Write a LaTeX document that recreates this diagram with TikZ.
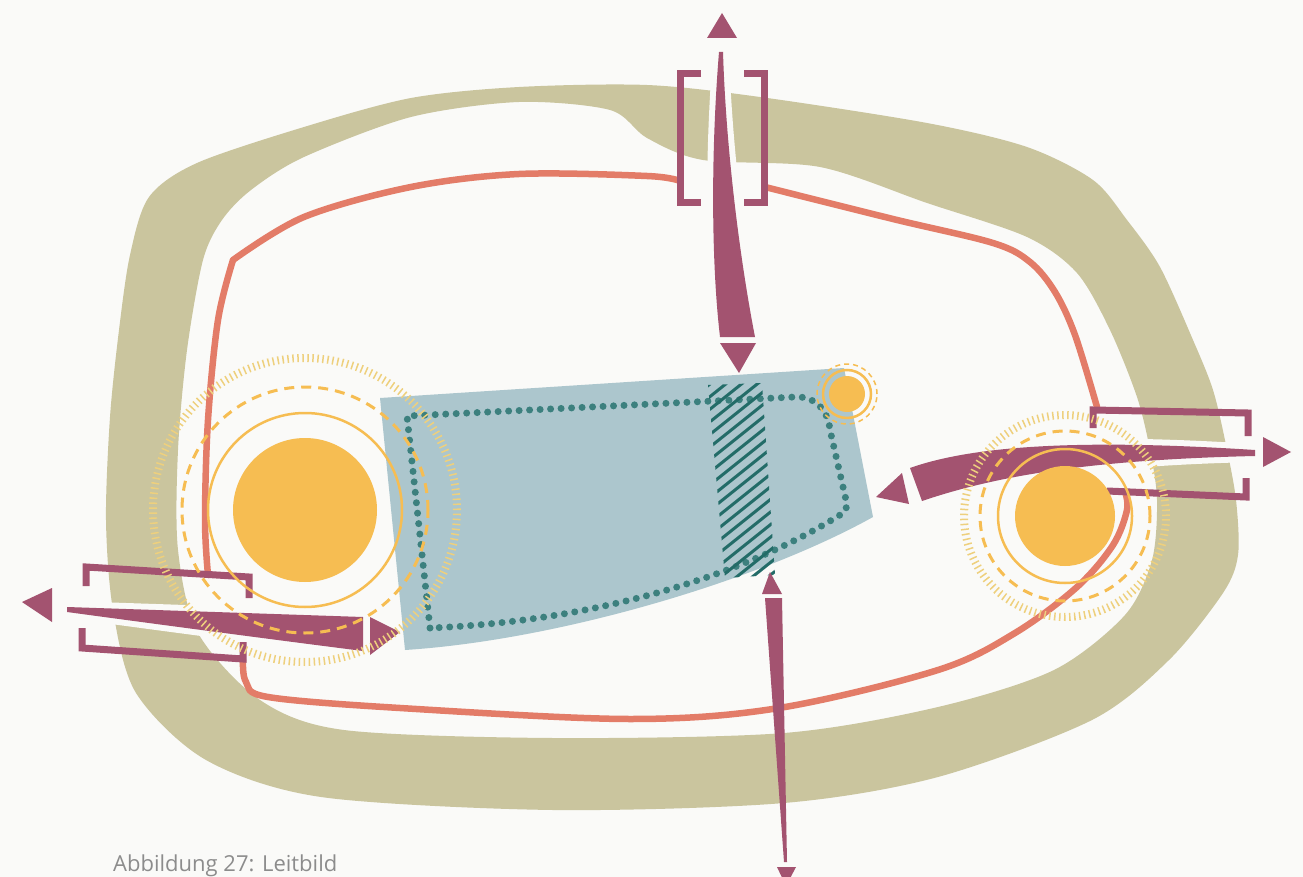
\documentclass[tikz,border=0pt]{standalone}
\usepackage{fontspec}
\setsansfont{Open Sans}
\usetikzlibrary{positioning}
\definecolor{mBack}{RGB}{250,250,248}
\definecolor{mOlive}{RGB}{202,197,158}
\definecolor{mSalmon}{RGB}{227,124,104}
\definecolor{mPlum}{RGB}{163,83,112}
\definecolor{mSlate}{RGB}{172,198,205}
\definecolor{mTeal}{RGB}{60,128,126}
\definecolor{mHatch}{RGB}{35,108,104}
\definecolor{mSun}{RGB}{246,189,82}
\definecolor{mTick}{RGB}{238,208,125}
\definecolor{mCaption}{RGB}{140,140,140}

\begin{document}
\begin{tikzpicture}[x=1pt, y=-1pt,
    route/.style={draw=mSalmon, line width=6.5pt, line cap=round, line join=round},
    gatebar/.style={draw=mPlum, line width=7pt, line join=miter},
    wedge/.style={fill=mPlum, preaction={draw=mBack, line width=12pt, line join=round}},
    tip/.style={fill=mPlum},
    sunring/.style={draw=mSun, line width=2.5pt},
    sundash/.style={draw=mSun, line width=3pt, dash pattern=on 10pt off 7pt},
    suntick/.style={draw=mTick, line width=8pt, dash pattern=on 1.5pt off 3.5pt},
    dotline/.style={draw=mTeal, line width=7pt, line cap=round, dash pattern=on 0pt off 10.5pt},
    hatchline/.style={draw=mHatch, line width=3pt}]
    \useasboundingbox (0,0) rectangle (1303,877);
    \fill[mBack] (0,0) rectangle (1303,877);
    % Olive ring
    \fill[mOlive, even odd rule]
      plot[smooth cycle, tension=0.5] coordinates {(149,197) (197,163) (304,127) (411,98) (519,87) (647,85)
        (760,97) (927,123) (1027,147) (1093,180) (1127,220) (1160,267) (1193,340) (1213,390) (1226,445)
        (1236,500) (1238,555) (1223,593) (1169,660) (1092,720) (938,777) (784,803) (553,810) (321,797)
        (206,760) (136,693) (113,610) (106,520) (110,417) (119,330) (130,255)}
      plot[smooth cycle, tension=0.5] coordinates {(222,220) (251,190) (304,157) (411,117) (519,102) (610,110)
        (647,138) (703,160) (820,167) (927,203) (1027,237) (1077,273) (1110,330) (1137,397) (1150,450)
        (1157,500) (1152,560) (1125,615) (1054,670) (938,707) (784,733) (553,738) (344,730) (260,700)
        (198,633) (178,550) (178,450) (187,350) (203,260)};
    % Salmon route
    \draw[route] plot[smooth, tension=0.55] coordinates {(680,181) (647,176) (519,174) (411,187) (304,217) (233,260)};
    \draw[route] plot[smooth, tension=0.55] coordinates {(233,260) (218,320) (208,420) (205,520) (208,575)};
    \draw[route] plot[smooth, tension=0.55] coordinates {(765,187) (893,219) (993,243) (1030,262) (1055,292) (1075,335) (1097,407)};
    \draw[route] plot[smooth, tension=0.55] coordinates {(243,660) (246,682) (268,697) (400,708) (630,719) (779,708)
      (938,670) (1015,633) (1077,587) (1113,545) (1127,510) (1125,492)};
    % Blue area with dotted border
    \fill[mSlate] (380,398) -- (844,368) -- (873,517) .. controls (760,580) and (560,640) .. (405,650) -- cycle;
    \draw[dotline] (430,628) -- (407,416) -- (795,397) .. controls (815,396) and (828,410) .. (830,430)
      -- (846,500) .. controls (848,510) and (845,512) .. (840,515) .. controls (760,565) and (620,620) .. (430,628);
    % Hatched stripe
    \begin{scope}
      \clip (708,385) -- (762,383) -- (775,575) -- (725,578) -- cycle;
      \foreach \k in {0,...,20}
        \draw[hatchline] (700,{392+12.6*\k}) -- ++(90,-72);
    \end{scope}
    % Gates: wedges
    \path[wedge] (719,52) -- (723,52) .. controls (726,150) and (740,260) .. (755,337) -- (720,337)
      .. controls (711,260) and (711,150) .. (719,52) -- cycle;
    \path[wedge] (67,607) -- (363,617) -- (363,651) .. controls (300,643) and (200,630) .. (67,612) -- cycle;
    \path[wedge] (1255,450) .. controls (1100,440) and (980,443) .. (910,468) -- (922,501)
      .. controls (990,478) and (1080,460) .. (1255,456) -- cycle;
    \path[tip] (765,598) -- (782,598) -- (787,862) -- (784,862) -- cycle;
    % Arrowheads
    \path[tip] (707,38) -- (737,38) -- (722,13) -- cycle;
    \path[tip] (720,343) -- (756,343) -- (739,373) -- cycle;
    \path[tip] (762,594) -- (782,594) -- (770,572) -- cycle;
    \path[tip] (777,867) -- (796,867) -- (786,886) -- cycle;
    \path[tip] (22,602) -- (52,588) -- (52,622) -- cycle;
    \path[tip] (370,617) -- (370,655) -- (400,632) -- cycle;
    \path[tip] (876,497) -- (902,473) -- (909,504) -- cycle;
    \path[tip] (1263,437) -- (1263,467) -- (1291,452) -- cycle;
    % Brackets
    \draw[gatebar] (701,74) -- (680,74) -- (680,203) -- (701,203);
    \draw[gatebar] (744,74) -- (764,74) -- (764,203) -- (744,203);
    \draw[gatebar] (86,586) -- (86,567) -- (249,577) -- (249,598);
    \draw[gatebar] (82,628) -- (82,648) -- (243,659) -- (243,642);
    \draw[gatebar] (1093,428) -- (1093,410) -- (1248,413) -- (1248,436);
    \draw[gatebar] (1107,491) -- (1246,497) -- (1246,478);
    % Suns
    \fill[mSun] (305,510) circle[radius=72pt];
    \draw[sunring] (305,510) circle[radius=97pt];
    \draw[sundash] (305,510) circle[radius=123pt];
    \draw[suntick] (305,510) circle[radius=152pt];
    \fill[mSun] (1065,516) circle[radius=50pt];
    \draw[sunring] (1065,516) circle[radius=67pt];
    \draw[sundash] (1065,516) circle[radius=85pt];
    \draw[suntick] (1065,516) circle[radius=101pt];
    \fill[mSun] (847,394) circle[radius=18pt];
    \draw[sunring] (847,394) circle[radius=24pt];
    \draw[mSun, line width=1.5pt, dash pattern=on 5pt off 4pt] (847,394) circle[radius=30pt];
    % Caption
    \node[anchor=base west, inner sep=0pt, text=mCaption, font=\sffamily\fontsize{22}{26}\selectfont]
      (caption) at (113,871) {Abbildung 27: Leitbild};
\end{tikzpicture}
\end{document}
